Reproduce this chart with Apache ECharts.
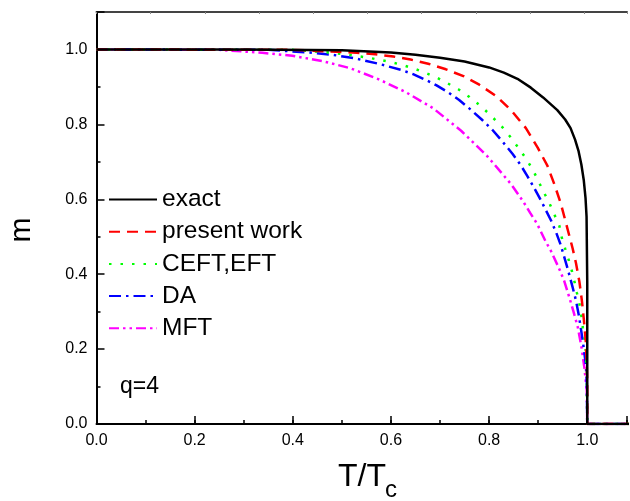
<!DOCTYPE html>
<html>
<head>
<meta charset="utf-8">
<script src="https://cdn.jsdelivr.net/npm/echarts@6/dist/echarts.min.js"></script>
<style>
html,body{margin:0;padding:0;background:#fff;}
#c{width:630px;height:501px;}
</style>
</head>
<body>
<div id="c"></div>
<script>
// ---- data ----
const xTicks = [0.0, 0.2, 0.4, 0.6, 0.8, 1.0];
const yTicks = [0.0, 0.2, 0.4, 0.6, 0.8, 1.0];
const seriesNames = ['exact', 'present work', 'CEFT,EFT', 'DA', 'MFT'];

const T_exact = [0, 0.3, 0.5, 0.6, 0.65, 0.7, 0.75, 0.8, 0.83, 0.86, 0.885, 0.91, 0.939, 0.955, 0.966, 0.975, 0.982, 0.988, 0.993, 0.9965, 0.9986, 1.0, 1.0, 1.1];
const m_exact = [1.0, 1.0, 0.998, 0.992, 0.986, 0.978, 0.968, 0.952, 0.938, 0.920, 0.898, 0.872, 0.838, 0.813, 0.790, 0.760, 0.730, 0.693, 0.650, 0.603, 0.553, 0.376, 0, 0];

const T_present = [0, 0.4, 0.49, 0.53, 0.568, 0.605, 0.64, 0.676, 0.712, 0.749, 0.78, 0.816, 0.846, 0.875, 0.899, 0.919, 0.933, 0.946, 0.956, 0.970, 0.977, 0.984, 0.989, 0.993, 0.997, 0.999, 1.0, 1.0, 1.1];
const m_present = [1.0, 0.999, 0.994, 0.991, 0.987, 0.981, 0.973, 0.962, 0.947, 0.928, 0.906, 0.874, 0.836, 0.790, 0.738, 0.689, 0.640, 0.589, 0.540, 0.470, 0.430, 0.380, 0.330, 0.280, 0.220, 0.160, 0.110, 0, 0];

const T_ceft = [0, 0.4, 0.473, 0.514, 0.558, 0.601, 0.625, 0.649, 0.670, 0.693, 0.715, 0.738, 0.760, 0.783, 0.804, 0.826, 0.843, 0.860, 0.875, 0.889, 0.900, 0.911, 0.923, 0.933, 0.943, 0.948, 0.955, 0.962, 0.969, 0.974, 0.979, 0.984, 0.988, 0.991, 0.995, 0.997, 0.999, 1.0, 1.1];
const m_ceft = [1.0, 0.999, 0.992, 0.986, 0.977, 0.966, 0.958, 0.948, 0.938, 0.925, 0.910, 0.893, 0.873, 0.849, 0.823, 0.794, 0.767, 0.737, 0.709, 0.679, 0.650, 0.620, 0.589, 0.559, 0.530, 0.498, 0.468, 0.439, 0.407, 0.380, 0.350, 0.321, 0.289, 0.257, 0.225, 0.195, 0.140, 0, 0];

const T_da = [0, 0.35, 0.432, 0.480, 0.527, 0.574, 0.622, 0.645, 0.669, 0.693, 0.716, 0.739, 0.762, 0.785, 0.807, 0.828, 0.848, 0.864, 0.878, 0.892, 0.906, 0.926, 0.937, 0.946, 0.960, 0.970, 0.977, 0.983, 0.991, 0.997, 0.999, 1.0, 1.1];
const m_da = [1.0, 0.999, 0.992, 0.986, 0.976, 0.962, 0.945, 0.934, 0.920, 0.904, 0.886, 0.865, 0.840, 0.813, 0.785, 0.753, 0.721, 0.692, 0.662, 0.630, 0.596, 0.544, 0.510, 0.478, 0.415, 0.366, 0.330, 0.289, 0.221, 0.160, 0.110, 0, 0];

const T_mft = [0, 0.25, 0.338, 0.399, 0.460, 0.517, 0.574, 0.629, 0.686, 0.743, 0.797, 0.845, 0.870, 0.884, 0.898, 0.915, 0.926, 0.943, 0.953, 0.964, 0.972, 0.981, 0.988, 0.994, 0.999, 1.0, 1.1];
const m_mft = [1.0, 0.999, 0.991, 0.983, 0.969, 0.950, 0.921, 0.887, 0.843, 0.783, 0.714, 0.640, 0.593, 0.563, 0.534, 0.488, 0.462, 0.414, 0.382, 0.336, 0.300, 0.257, 0.207, 0.152, 0.090, 0, 0];

// ---- chart ----
const FONT = 'Liberation Sans, Arial, sans-serif';
const X_MAX = 1.081;   // visible part of the axis (plot is cut at the right edge)
function zip(xs, ys) { return xs.map((x, i) => [x, ys[i]]); }
function fmt(v) {
  for (const t of xTicks) if (Math.abs(v - t) < 1e-6) return t.toFixed(1);
  return '';
}
function fmtY(v) {
  for (const t of yTicks) if (Math.abs(v - t) < 1e-6) return t.toFixed(1);
  return '';
}

const chart = echarts.init(document.getElementById('c'), null, {renderer: 'canvas'});

function lineSeries(name, xs, ys, color, type, z) {
  return {
    name: name, type: 'line', xAxisIndex: 0, yAxisIndex: 0,
    data: zip(xs, ys), symbol: 'none', showSymbol: false, smooth: false,
    animation: false, z: z,
    lineStyle: {color: color, width: 2.5, type: type, cap: 'butt'},
    itemStyle: {color: color}
  };
}

const option = {
  animation: false,
  backgroundColor: '#ffffff',
  grid: {left: 96.5, right: 0, top: 12, bottom: 77, containLabel: false},
  xAxis: [
    {
      type: 'value', min: 0, max: X_MAX, interval: 0.2, position: 'bottom',
      axisLine: {show: true, onZero: false, lineStyle: {color: '#000', width: 2}},
      axisTick: {show: true, inside: true, length: 8, lineStyle: {color: '#000', width: 1.5}},
      axisLabel: {show: true, margin: 9, color: '#000', fontSize: 16, fontFamily: FONT, formatter: fmt},
      splitLine: {show: false}
    },
    {
      type: 'value', min: 0, max: 9.79, interval: 1, position: 'top',
      axisLine: {show: true, onZero: false, lineStyle: {color: '#444', width: 2}},
      axisTick: {show: true, inside: true, length: 2, lineStyle: {color: '#888', width: 1}},
      axisLabel: {show: false}, splitLine: {show: false}
    },
    {
      type: 'value', min: 0, max: X_MAX, interval: 0.1, position: 'bottom',
      axisLine: {show: false, onZero: false},
      axisTick: {show: true, inside: true, length: 4, lineStyle: {color: '#000', width: 1.5}},
      axisLabel: {show: false}, splitLine: {show: false}
    }
  ],
  yAxis: [
    {
      type: 'value', min: 0, max: 1.1, interval: 0.2, position: 'left',
      axisLine: {show: true, onZero: false, lineStyle: {color: '#000', width: 2}},
      axisTick: {show: true, inside: true, length: 8, lineStyle: {color: '#000', width: 1.5}},
      axisLabel: {show: true, margin: 9, color: '#000', fontSize: 16, fontFamily: FONT, formatter: fmtY},
      splitLine: {show: false}
    },
    {
      type: 'value', min: 0, max: 1.1, interval: 0.1, position: 'left',
      axisLine: {show: false, onZero: false},
      axisTick: {show: true, inside: true, length: 4, lineStyle: {color: '#000', width: 1.5}},
      axisLabel: {show: false}, splitLine: {show: false}
    }
  ],
  legend: {
    show: true, orient: 'vertical', left: 103, top: 182,
    itemWidth: 48, itemHeight: 14, itemGap: 7.2,
    itemStyle: {opacity: 0, borderWidth: 0},
    textStyle: {fontSize: 24.5, fontFamily: FONT, color: '#000', lineHeight: 24},
    data: seriesNames, selectedMode: false
  },
  series: [
    lineSeries(seriesNames[0], T_exact, m_exact, '#000000', 'solid', 5),
    lineSeries(seriesNames[1], T_present, m_present, '#ff0000', [11, 7], 4),
    lineSeries(seriesNames[2], T_ceft, m_ceft, '#00ff00', [2.5, 9], 3),
    lineSeries(seriesNames[3], T_da, m_da, '#0000ff', [12, 5, 2.5, 5], 2),
    lineSeries(seriesNames[4], T_mft, m_mft, '#ff00ff', [10, 4, 2.5, 4, 2.5, 4], 1)
  ],
  graphic: [
    {type: 'text', left: 120, top: 375, style: {text: 'q=4', fontSize: 23, fontFamily: FONT, fill: '#000'}},
    {type: 'text', x: 22, y: 230, rotation: Math.PI / 2,
     style: {text: 'm', fontSize: 30, fontFamily: FONT, fill: '#000', align: 'center', verticalAlign: 'middle'}},
    {type: 'text', x: 338, y: 477, style: {text: 'T/T', fontSize: 32, fontFamily: FONT, fill: '#000', align: 'left', verticalAlign: 'middle'}},
    {type: 'text', x: 385, y: 490, style: {text: 'c', fontSize: 24, fontFamily: FONT, fill: '#000', align: 'left', verticalAlign: 'middle'}}
  ]
};
chart.setOption(option);
</script>
</body>
</html>
